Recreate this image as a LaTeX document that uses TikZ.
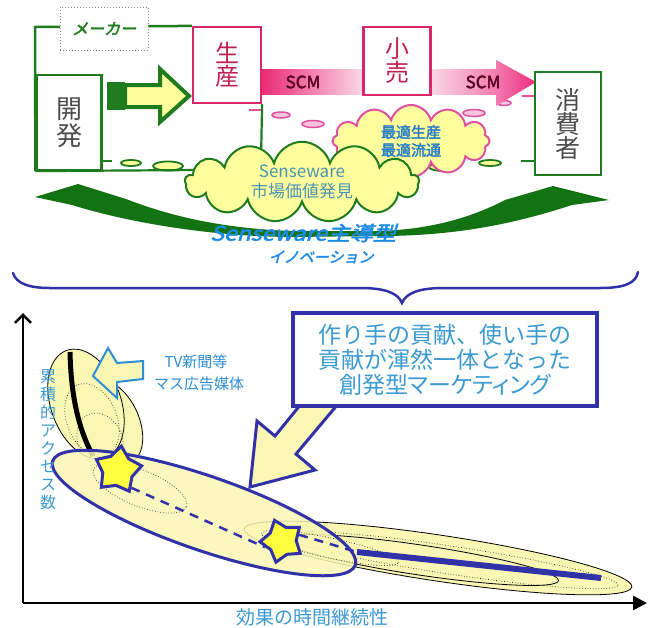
\documentclass[tikz,border=0pt]{standalone}
\usepackage{fontspec}
\setmainfont{Noto Sans CJK JP}[AutoFakeBold=2.5,AutoFakeSlant=0.25]
\newfontfamily\pjp{Noto Sans CJK JP}[RawFeature=+palt,AutoFakeBold=2.5,AutoFakeSlant=0.25]
\usetikzlibrary{shapes.symbols,shapes.geometric,arrows.meta}
\definecolor{dgreen}{HTML}{1E7B1E}
\definecolor{swgreen}{HTML}{137313}
\definecolor{lyellow}{HTML}{FFFF9E}
\definecolor{pyellow}{HTML}{FAF7B4}
\definecolor{crim}{HTML}{D8286A}
\definecolor{crimtxt}{HTML}{C02050}
\definecolor{scmtxt}{HTML}{5A0020}
\definecolor{pinkdeep}{HTML}{EC2C78}
\definecolor{pinkpale}{HTML}{FAD8E6}
\definecolor{pinkmid}{HTML}{F27AAE}
\definecolor{povlc}{HTML}{E050A0}
\definecolor{pinklight}{HTML}{F8C4DC}
\definecolor{navy}{HTML}{3232A8}
\definecolor{boxtxt}{HTML}{3C9AD2}
\definecolor{skyb}{HTML}{1E8CE6}
\definecolor{cloudtxt}{HTML}{4A93B5}
\definecolor{opttxt}{HTML}{2A7EC4}
\definecolor{tvblue}{HTML}{2E8ED6}
\definecolor{starfill}{HTML}{FFFF40}
\begin{document}
\begin{tikzpicture}[x=1pt,y=-1pt,
  gbox/.style={draw=dgreen,line width=2.2pt,fill=white,align=center,inner sep=0pt,text=black!70},
  pbox/.style={draw=crim,line width=2.2pt,fill=white,align=center,inner sep=0pt,text=crimtxt},
  povl/.style={draw=povlc,line width=1.5pt,fill=pinklight},
  govl/.style={draw=dgreen,line width=1.8pt,fill=lyellow},
  scmlbl/.style={font=\fontsize{17}{17}\selectfont,inner sep=1pt,text=scmtxt,fill=none},
  lbl/.style={inner sep=0pt,align=center},
  thinell/.style={draw=black,line width=0.8pt,fill=pyellow},
  dotell/.style={draw=black!80,line width=0.7pt,dotted},
  starbox/.style={star,star points=5,star point ratio=1.55,draw=navy,line width=3pt,fill=starfill,inner sep=0pt}
]
\useasboundingbox (0,0) rectangle (652,627);
\fill[white] (0,0) rectangle (652,627);

% ---------------- top part ----------------
% pink dashed chain
\draw[povlc,line width=1.5pt] (249,110) -- (262,110);
\draw[povl] (281,115) ellipse [x radius=9pt,y radius=3pt];
\draw[povl] (313,124) ellipse [x radius=11pt,y radius=3.5pt];
\draw[povl] (474,113) ellipse [x radius=11pt,y radius=3.5pt];
\draw[povl] (504,103) ellipse [x radius=7pt,y radius=2.5pt];
\draw[povlc,line width=1.5pt] (522,96) -- (534,96);

% green dashed chain
\draw[dgreen,line width=1.8pt] (102,161) -- (112,161);
\draw[govl] (131,163) ellipse [x radius=10pt,y radius=3pt];
\draw[govl] (168,166) ellipse [x radius=15pt,y radius=4.5pt];
\draw[govl] (443,167) ellipse [x radius=14pt,y radius=4pt];
\draw[govl] (490,163) ellipse [x radius=11pt,y radius=3pt];
\draw[dgreen,line width=1.8pt] (521,161) -- (535,161);

% SCM band (stepped gradient)
\foreach \i in {0,...,50} {
  \pgfmathtruncatemacro\p{100-2*\i}
  \fill[pinkdeep!\p!pinkpale] ({262+2*\i},69) rectangle ({264.6+2*\i},95);
}
\foreach \i in {0,...,33} {
  \pgfmathtruncatemacro\p{3*\i}
  \fill[pinkmid!\p!pinkpale] ({430+2*\i},69) rectangle ({432.6+2*\i},95);
}
\begin{scope}
  \clip (496,60) -- (536,82) -- (496,106) -- cycle;
  \foreach \i in {0,...,20} {
    \pgfmathtruncatemacro\p{5*\i}
    \fill[pinkdeep!\p!pinkmid] ({496+2*\i},58) rectangle ({498.6+2*\i},108);
  }
\end{scope}

% boxes
\node[gbox,minimum width=65pt,minimum height=95pt,font=\fontsize{26}{27}\selectfont] (kaihatsu) at (69,122.5) {開\\発};
\node[pbox,minimum width=68pt,minimum height=76pt,font=\fontsize{24}{23}\selectfont] (seisan) at (227,65) {生\\産};
\node[gbox,minimum width=66pt,minimum height=103pt,font=\fontsize{25}{24}\selectfont] (shouhi) at (568,123.5) {消\\費\\者};
\node[pbox,minimum width=67pt,minimum height=68pt,font=\fontsize{24}{24}\selectfont] (kouri) at (397,61) {小\\売};
\node[scmlbl] (scm1) at (303,82) {\bfseries SCM};
\node[scmlbl] (scm2) at (483,82) {\bfseries SCM};

% frame
\draw[dgreen,line width=2.5pt] (kaihatsu.south west) -- (35,27) -- (seisan.north west);
\draw[dgreen,line width=2.2pt] (kaihatsu.south west) -- (200,170);
\draw[dgreen,line width=2.2pt] (seisan.south east) -- (261,160);
\node[draw=black!45,dotted,line width=1pt,fill=white,minimum width=88pt,minimum height=43pt,text=dgreen,font=\bfseries\itshape\fontsize{16}{16}\selectfont] (maker) at (104,28.5) {メーカー};

% development -> production block arrow
\fill[dgreen] (107,82) rectangle (125,110);
\draw[dgreen,line width=4pt,fill=lyellow,line join=miter] (125,85) -- (160,85) -- (160,69) -- (189,96) -- (160,122) -- (160,107) -- (125,107) -- cycle;

% clouds
\node[cloud,cloud puffs=12,aspect=3.2,draw=povlc,line width=2pt,fill=lyellow,minimum width=157pt,minimum height=48pt,inner sep=0pt,align=center,text=opttxt,font=\bfseries\fontsize{15}{18}\selectfont] (opt) at (411,141) {最適生産\\最適流通};
\node[cloud,cloud puffs=13,aspect=3.8,draw=dgreen,line width=2pt,fill=lyellow,minimum width=234pt,minimum height=60pt,inner sep=0pt,align=center,text=cloudtxt,font=\fontsize{17}{20}\selectfont] (sense) at (302,182) {Senseware\\市場価値発見};

% big green swoosh arrow
\fill[swgreen] (35,197) -- (78,184) -- (126,199) .. controls (170,216) and (220,228) .. (290,231) -- (380,231) .. controls (440,229) and (480,213) .. (505,200) -- (553,186) -- (609,200) -- (572,205) .. controls (520,222) and (460,236) .. (380,236) -- (290,237) .. controls (200,236) and (120,220) .. (72,205) -- cycle;
\node[lbl,text=skyb,font=\bfseries\itshape\fontsize{20}{20}\selectfont] (inno1) at (303,233) {\scalebox{1.15}[1]{Senseware主導型}};
\node[lbl,text=skyb,font=\bfseries\itshape\fontsize{15}{15}\selectfont] (inno2) at (321,257) {イノベーション};

% brace
\draw[navy,line width=2.5pt,line cap=round] (13,273) .. controls (16,283) and (28,288) .. (50,288) -- (360,288) .. controls (385,288) and (398,293) .. (402,303) .. controls (406,293) and (419,288) .. (444,288) -- (600,288) .. controls (625,288) and (636,283) .. (638,272);

% ---------------- bottom part ----------------
% long right ellipse
\draw[thinell,shift={(438,558)},rotate=-8.5] (0,0) ellipse [x radius=196pt,y radius=23pt];
\draw[dotell,shift={(450,560)},rotate=-8.5] (0,0) ellipse [x radius=170pt,y radius=14pt];
\draw[black,line width=0.8pt,shift={(420,560)},rotate=-8.5] (0,0) ellipse [x radius=140pt,y radius=15pt];

% tall ellipses
\draw[thinell,shift={(113,422)},rotate=24] (0,0) ellipse [x radius=26pt,y radius=44pt];
\draw[thinell,shift={(86,404)},rotate=20] (0,0) ellipse [x radius=35pt,y radius=57pt];
\draw[dotell,shift={(92,420)},rotate=22] (0,0) ellipse [x radius=25pt,y radius=38pt];
\draw[dotell,shift={(100,440)},rotate=25] (0,0) ellipse [x radius=22pt,y radius=28pt];
\draw[line width=5pt] (70,352) .. controls (71,395) and (78,428) .. (93,456);

% TV arrow
\draw[tvblue,line width=2pt,fill=pyellow,line join=miter] (93,376) -- (108,348) -- (117,363) -- (143,361) -- (143,379) -- (117,382) -- (117,398) -- cycle;
\node[lbl,text=tvblue,font=\fontsize{15}{15}\selectfont] (tv1) at (196,362) {TV新聞等};
\node[lbl,text=tvblue,font=\fontsize{15}{15}\selectfont] (tv2) at (199,384) {マス広告媒体};

% blue ellipse
\draw[navy,line width=3pt,fill=pyellow,fill opacity=0.85,shift={(204,513)},rotate=-19] (0,0) ellipse [x radius=160pt,y radius=37pt];
\draw[dotell,shift={(140,488)},rotate=-22] (0,0) ellipse [x radius=50pt,y radius=18pt];
\draw[dotell,shift={(330,548)},rotate=-12] (0,0) ellipse [x radius=70pt,y radius=10pt];

% stars and paths
\node[starbox,minimum size=48pt,rotate=-8] (star1) at (118,470) {};
\node[starbox,minimum size=44pt,rotate=20] (star2) at (282,541) {};
\coordinate (bl1) at (357,552);
\coordinate (bl2) at (601,578);
\draw[navy,line width=2.5pt,dash pattern=on 9pt off 7pt] (star1.south east) -- (star2.west);
\draw[navy,line width=2.5pt,dash pattern=on 9pt off 7pt] (star2.east) -- (bl1);
\draw[navy,line width=6pt] (bl1) -- (bl2);

% explanation box and arrow
\draw[navy,line width=3pt,fill=pyellow,line join=miter] (301,404) -- (275,436) -- (257,421) -- (250,487) -- (315,470) -- (296,454) -- (338,404) -- cycle;
\node[draw=navy,line width=4pt,fill=white,minimum width=304pt,minimum height=93pt,align=center,text=boxtxt,font=\fontsize{23}{25}\selectfont] (box) at (445,359.5) {作り手の貢献、使い手の\\貢献が渾然一体となった\\{\pjp 創発型マーケティング}};

% axes
\coordinate (O) at (23,603);
\coordinate (ytop) at (23,313);
\coordinate (xend) at (647,603);
\draw[line width=2.5pt,-{Straight Barb[length=8pt,width=16pt]}] (O) -- (ytop);
\draw[line width=2.5pt,-{Triangle[length=14pt,width=14pt]}] (O) -- (xend);
\node[lbl,text=boxtxt,font=\fontsize{19}{19}\selectfont] (xlab) at (312,617) {効果の時間継続性};
\node[lbl,text=boxtxt,font=\fontsize{16}{18}\selectfont] (ylab) at (48,440) {累\\積\\的\\ア\\ク\\セ\\ス\\数};
\end{tikzpicture}
\end{document}
